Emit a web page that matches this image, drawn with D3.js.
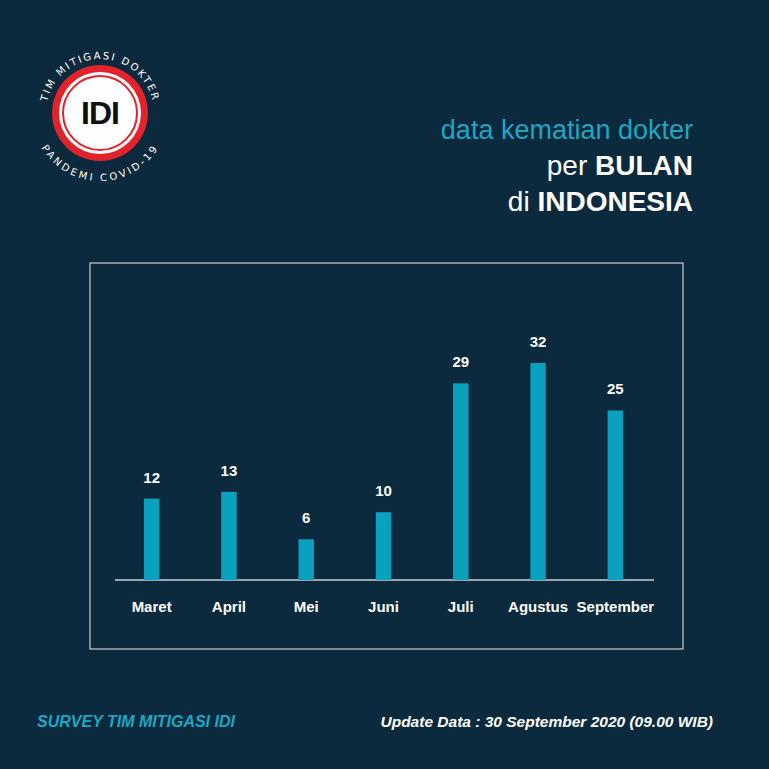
<!DOCTYPE html>
<html><head><meta charset="utf-8">
<script src="https://cdn.jsdelivr.net/npm/d3@7"></script>
<style>body{margin:0;background:#0c2a3e}svg{display:block}</style>
</head><body>
<svg id="chart" width="769" height="769"></svg>
<script>
// data
let months = ["Maret", "April", "Mei", "Juni", "Juli", "Agustus", "September"];
let deaths = [12, 13, 6, 10, 29, 32, 25];

let svg = d3.select("#chart");
svg.append("rect").attr("width", 769).attr("height", 769).attr("fill", "#0c2a3e");

// logo
let logo = svg.append("g").attr("transform", "translate(100,113)");
logo.append("circle").attr("r", 48).attr("fill", "#e3232b");
logo.append("circle").attr("r", 41).attr("fill", "#fff");
logo.append("circle").attr("r", 37).attr("fill", "none").attr("stroke", "#e3232b").attr("stroke-width", 2);
logo.append("text").attr("y", 11).attr("text-anchor", "middle")
    .attr("font-family", "Liberation Sans, Arial").attr("font-weight", "bold")
    .attr("font-size", 32).attr("fill", "#111").attr("letter-spacing", -1).text("IDI");
logo.append("path").attr("id", "arcTop").attr("d", "M -54 0 A 54 54 0 0 1 54 0").attr("fill", "none");
logo.append("path").attr("id", "arcBot").attr("d", "M -62 0 A 62 62 0 0 0 62 0").attr("fill", "none");
logo.append("text").attr("font-family", "DejaVu Sans").attr("font-size", 10).attr("fill", "#fff").attr("letter-spacing", 2)
    .append("textPath").attr("href", "#arcTop").attr("startOffset", "50%").attr("text-anchor", "middle").text("TIM MITIGASI DOKTER");
logo.append("text").attr("font-family", "DejaVu Sans").attr("font-size", 10).attr("fill", "#fff").attr("letter-spacing", 2)
    .attr("dy", 6)
    .append("textPath").attr("href", "#arcBot").attr("startOffset", "50%").attr("text-anchor", "middle").text("PANDEMI COVID-19");

// title
let title = svg.append("g").attr("font-family", "Liberation Sans, Arial").attr("text-anchor", "end");
title.append("text").attr("x", 693).attr("y", 139).attr("font-size", 27).attr("fill", "#1ea6c2").text("data kematian dokter");
let t2 = title.append("text").attr("x", 693).attr("y", 175).attr("font-size", 28).attr("fill", "#fff");
t2.append("tspan").text("per ");
t2.append("tspan").attr("font-weight", "bold").text("BULAN");
let t3 = title.append("text").attr("x", 693).attr("y", 211).attr("font-size", 28).attr("fill", "#fff");
t3.append("tspan").text("di ");
t3.append("tspan").attr("font-weight", "bold").text("INDONESIA");

// frame
svg.append("rect").attr("x", 90).attr("y", 263).attr("width", 593).attr("height", 386)
    .attr("fill", "none").attr("stroke", "#c9d0d6").attr("stroke-width", 1.2);

let x = d3.scaleBand().domain(months).range([113, 654]).paddingInner(0.8).paddingOuter(0.4);
let y = d3.scaleLinear().domain([0, 32]).range([580, 363]);

svg.append("line").attr("x1", 115).attr("x2", 654).attr("y1", 580).attr("y2", 580)
    .attr("stroke", "#c9d0d6").attr("stroke-width", 1.5);

svg.selectAll(".bar").data(deaths).enter().append("rect")
    .attr("x", (d, i) => x(months[i]))
    .attr("y", d => y(d))
    .attr("width", x.bandwidth())
    .attr("height", d => y(0) - y(d))
    .attr("fill", "#0aa1bf");

svg.selectAll(".val").data(deaths).enter().append("text")
    .attr("x", (d, i) => x(months[i]) + x.bandwidth() / 2)
    .attr("y", d => y(d) - 16)
    .attr("text-anchor", "middle").attr("font-family", "Liberation Sans, Arial")
    .attr("font-weight", "bold").attr("font-size", 15).attr("fill", "#fff")
    .text(d => d);

svg.selectAll(".mon").data(months).enter().append("text")
    .attr("x", d => x(d) + x.bandwidth() / 2)
    .attr("y", 612)
    .attr("text-anchor", "middle").attr("font-family", "Liberation Sans, Arial")
    .attr("font-weight", "bold").attr("font-size", 15).attr("fill", "#fff")
    .text(d => d);

// footer
svg.append("text").attr("x", 37).attr("y", 727).attr("font-family", "Liberation Sans, Arial")
    .attr("font-weight", "bold").attr("font-style", "italic").attr("font-size", 16).attr("fill", "#1ea6c2")
    .text("SURVEY TIM MITIGASI IDI");
svg.append("text").attr("x", 713).attr("y", 727).attr("text-anchor", "end").attr("font-family", "Liberation Sans, Arial")
    .attr("font-weight", "bold").attr("font-style", "italic").attr("font-size", 15.5).attr("fill", "#fff")
    .text("Update Data : 30 September 2020 (09.00 WIB)");
</script>
</body></html>
